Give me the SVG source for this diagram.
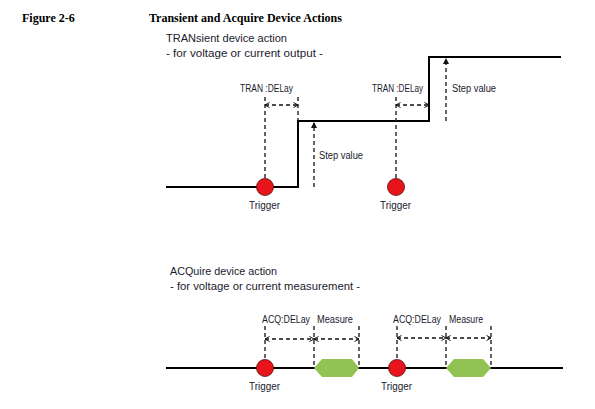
<svg xmlns="http://www.w3.org/2000/svg" width="595" height="409" viewBox="0 0 595 409">
<defs>
<marker id="ah" viewBox="0 0 6 6" refX="5.5" refY="3" markerWidth="6" markerHeight="6" markerUnits="userSpaceOnUse" orient="auto-start-reverse">
<path d="M1,0.5 L5.5,3 L1,5.5" fill="none" stroke="#111" stroke-width="1"/>
</marker>
<marker id="af" viewBox="0 0 6 6" refX="5" refY="3" markerWidth="6" markerHeight="6" markerUnits="userSpaceOnUse" orient="auto">
<path d="M0,0 L6,3 L0,6 Z" fill="#111"/>
</marker>
<style>
.hd{font-family:"Liberation Serif","Times New Roman",serif;font-weight:bold;font-size:12px;fill:#000}
.sub{font-family:"Liberation Sans",Arial,sans-serif;font-size:11.5px;fill:#1a1a2e}
.lb{font-family:"Liberation Sans",Arial,sans-serif;font-size:10px;fill:#1a1a2e}
.wave{fill:none;stroke:#000;stroke-width:2}
.dash{fill:none;stroke:#111;stroke-width:1.3;stroke-dasharray:4,3}
.trig{fill:#e8141b;stroke:#5a0a0a;stroke-width:0.8}
.meas{fill:#92c352}
</style>
</defs>
<g id="header">
<text class="hd" x="22" y="22">Figure 2-6</text>
<text class="hd" x="149" y="22">Transient and Acquire Device Actions</text>
</g>
<g id="tran-titles">
<text class="sub" x="166" y="42" textLength="121" lengthAdjust="spacingAndGlyphs">TRANsient device action</text>
<text class="sub" x="166" y="57" textLength="157" lengthAdjust="spacingAndGlyphs">- for voltage or current output -</text>
</g>
<g id="acq-titles">
<text class="sub" x="170" y="275" textLength="107" lengthAdjust="spacingAndGlyphs">ACQuire device action</text>
<text class="sub" x="170" y="290" textLength="190" lengthAdjust="spacingAndGlyphs">- for voltage or current measurement -</text>
</g>
<g id="connectors">
<polyline class="wave" points="166,187 298,187 298,121 429,121 429,57 561,57"/>
<line class="wave" x1="166" y1="368" x2="563" y2="368"/>
<line class="dash" x1="265" y1="97" x2="265" y2="179"/>
<line class="dash" x1="298" y1="97" x2="298" y2="121"/>
<line class="dash" x1="265" y1="105" x2="298" y2="105" marker-start="url(#ah)" marker-end="url(#ah)"/>
<line class="dash" x1="314" y1="187" x2="314" y2="123" marker-end="url(#af)"/>
<line class="dash" x1="396" y1="97" x2="396" y2="178"/>
<line class="dash" x1="396" y1="105" x2="429" y2="105" marker-start="url(#ah)" marker-end="url(#ah)"/>
<line class="dash" x1="446" y1="121" x2="446" y2="59" marker-end="url(#af)"/>
<line class="dash" x1="265" y1="326" x2="265" y2="360"/>
<line class="dash" x1="314" y1="326" x2="314" y2="368"/>
<line class="dash" x1="359" y1="326" x2="359" y2="368"/>
<line class="dash" x1="265" y1="339" x2="314" y2="339" marker-start="url(#ah)" marker-end="url(#ah)"/>
<line class="dash" x1="314" y1="339" x2="359" y2="339" marker-start="url(#ah)" marker-end="url(#ah)"/>
<line class="dash" x1="397" y1="326" x2="397" y2="360"/>
<line class="dash" x1="446" y1="326" x2="446" y2="368"/>
<line class="dash" x1="491" y1="326" x2="491" y2="368"/>
<line class="dash" x1="397" y1="338" x2="446" y2="338" marker-start="url(#ah)" marker-end="url(#ah)"/>
<line class="dash" x1="446" y1="338" x2="491" y2="338" marker-start="url(#ah)" marker-end="url(#ah)"/>
</g>
<g id="tran-labels">
<text class="lb" x="240" y="92" textLength="53" lengthAdjust="spacingAndGlyphs">TRAN :DELay</text>
<text class="lb" x="372" y="92" textLength="51" lengthAdjust="spacingAndGlyphs">TRAN :DELay</text>
<text class="lb" x="319" y="159" textLength="44" lengthAdjust="spacingAndGlyphs">Step value</text>
<text class="lb" x="452" y="92" textLength="44" lengthAdjust="spacingAndGlyphs">Step value</text>
</g>
<g id="trigger-t1">
<circle class="trig" cx="265" cy="187" r="8.5"/>
<text class="lb" x="249" y="209" textLength="31" lengthAdjust="spacingAndGlyphs">Trigger</text>
</g>
<g id="trigger-t2">
<circle class="trig" cx="396" cy="187" r="8.5"/>
<text class="lb" x="380" y="209" textLength="31" lengthAdjust="spacingAndGlyphs">Trigger</text>
</g>
<g id="trigger-a1">
<circle class="trig" cx="265" cy="368" r="8.5"/>
<text class="lb" x="249" y="390" textLength="31" lengthAdjust="spacingAndGlyphs">Trigger</text>
</g>
<g id="trigger-a2">
<circle class="trig" cx="397" cy="368" r="8.5"/>
<text class="lb" x="381" y="390" textLength="31" lengthAdjust="spacingAndGlyphs">Trigger</text>
</g>
<g id="measure-1">
<polygon class="meas" points="314,368 322,359 352,359 359,368 352,377 322,377"/>
<text class="lb" x="262" y="323" textLength="48" lengthAdjust="spacingAndGlyphs">ACQ:DELay</text>
<text class="lb" x="317" y="323" textLength="36" lengthAdjust="spacingAndGlyphs">Measure</text>
</g>
<g id="measure-2">
<polygon class="meas" points="446,368 454,359 483,359 491,368 483,377 454,377"/>
<text class="lb" x="393" y="323" textLength="48" lengthAdjust="spacingAndGlyphs">ACQ:DELay</text>
<text class="lb" x="449" y="323" textLength="34" lengthAdjust="spacingAndGlyphs">Measure</text>
</g>
</svg>
